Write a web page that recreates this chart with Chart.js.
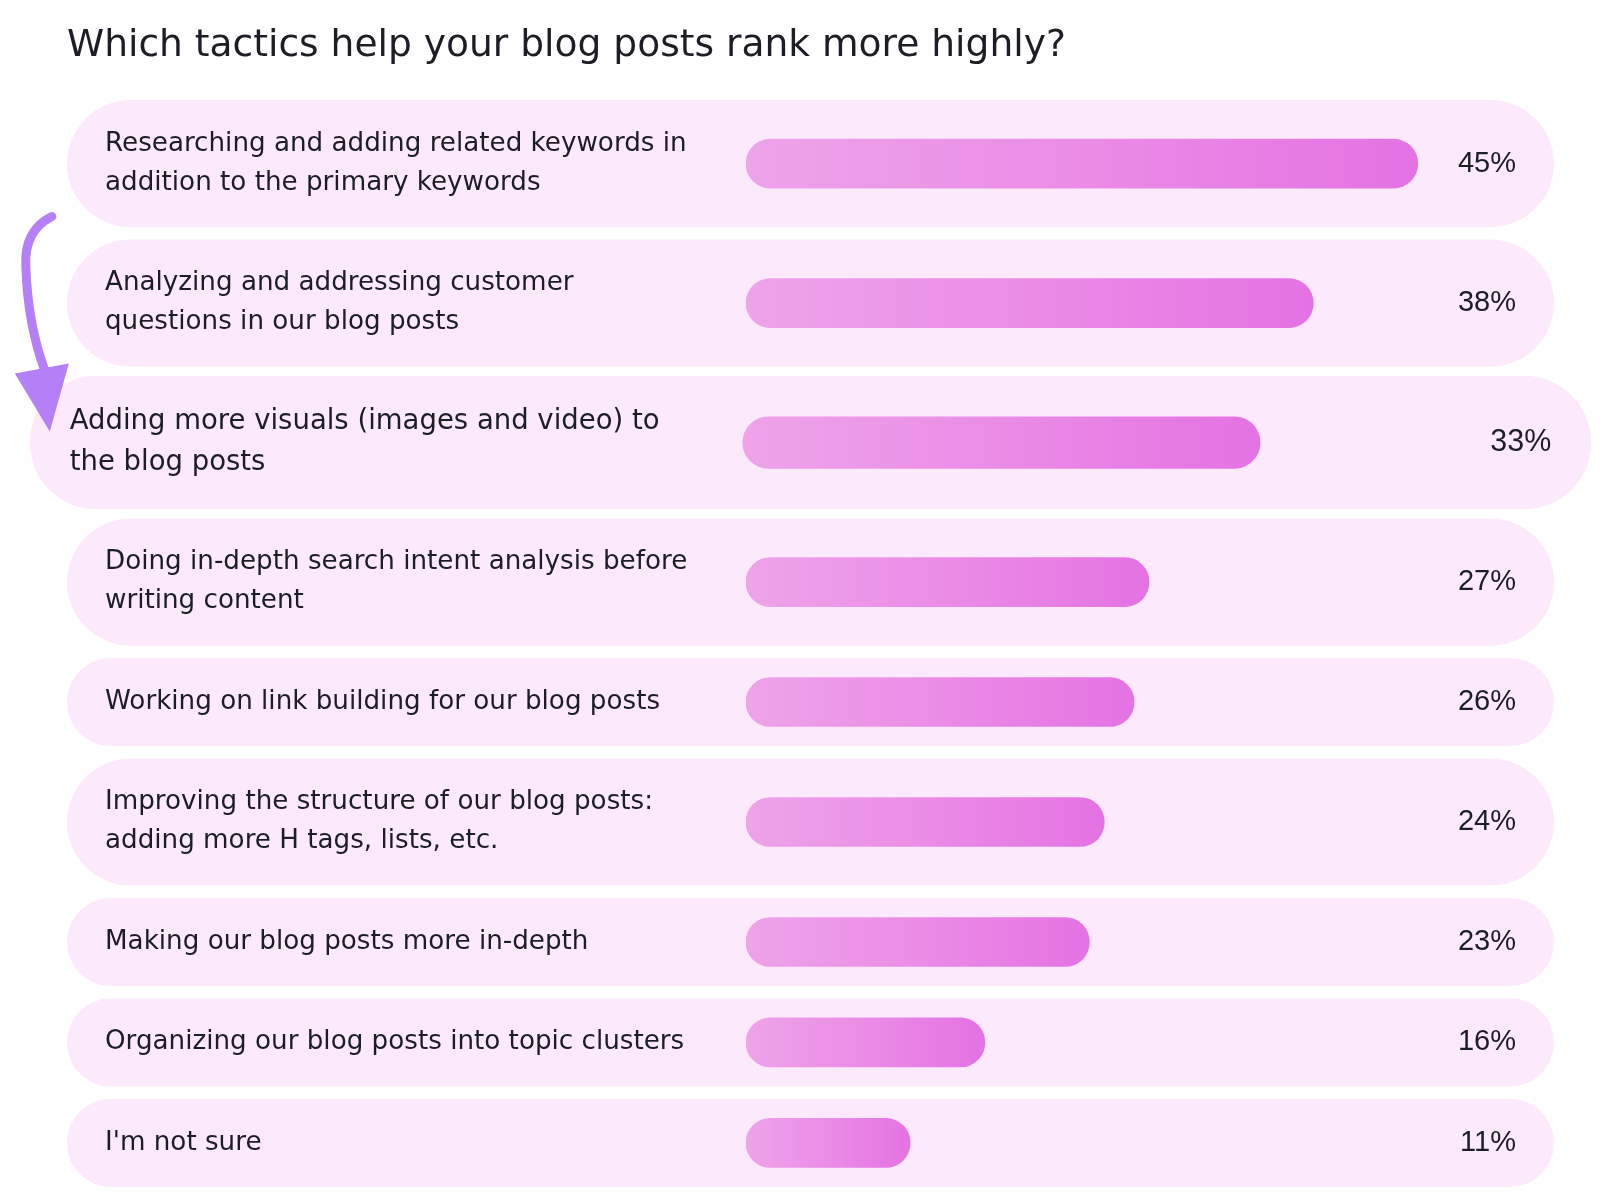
<!DOCTYPE html>
<html>
<head>
<meta charset="utf-8">
<script src="https://cdn.jsdelivr.net/npm/chart.js@4.4.1/dist/chart.umd.min.js"></script>
<style>
  html, body { margin: 0; padding: 0; background: #fff; }
  #wrap { position: relative; width: 1600px; height: 1197px; }
</style>
</head>
<body>
<div id="wrap"><canvas id="tacticsChart"></canvas></div>
<script>
// Survey data
const chartTitle = 'Which tactics help your blog posts rank more highly?';
const tactics = [
  ['Researching and adding related keywords in', 'addition to the primary keywords'],
  ['Analyzing and addressing customer', 'questions in our blog posts'],
  ['Adding more visuals (images and video) to', 'the blog posts'],
  ['Doing in-depth search intent analysis before', 'writing content'],
  ['Working on link building for our blog posts'],
  ['Improving the structure of our blog posts:', 'adding more H tags, lists, etc.'],
  ['Making our blog posts more in-depth'],
  ['Organizing our blog posts into topic clusters'],
  ["I'm not sure"]
];
const shares = [45, 38, 33, 27, 26, 24, 23, 16, 11];
const highlighted = 2;

// Layout (px)
const PAD_LEFT = 67;
const LABEL_COL = 679;
const PAD_RIGHT = 18;
const BG_RIGHT_INSET = 28;
const TEXT_INSET = 38;
const ZOOM = 1.05;
const X_MAX = 56;

const TEXT_COLOR = '#1d1d26';
const ROW_BG = '#fde9fc';
const LABEL_FONT = '"DejaVu Sans", "Noto Sans", sans-serif';
const PCT_FONT = '"Liberation Sans", Arial, sans-serif';

// row heights in "line" units: every row gets padding, two-line labels are taller
const ROW_PAD = 1.26;
const GAP = 0.315;
const rowTop = [];
const rowSize = [];
let acc = 0;
tactics.forEach(lines => {
  rowTop.push(acc);
  rowSize.push(lines.length + ROW_PAD);
  acc += lines.length + ROW_PAD + GAP;
});
const yMax = acc - GAP;
const rowMid = rowTop.map((t, i) => t + rowSize[i] / 2);

// the highlighted row is zoomed around the row centre, so its bar gets its own axis
const plotLeft = PAD_LEFT + LABEL_COL;
const plotW = 1600 - PAD_RIGHT - plotLeft;
const rowCenterX = (PAD_LEFT + (1600 - PAD_RIGHT - BG_RIGHT_INSET)) / 2;
const x2Min = (ZOOM - 1) * (rowCenterX - plotLeft) * X_MAX / (ZOOM * plotW);
const x2Max = x2Min + X_MAX / ZOOM;

const normalPoints = [];
const highlightPoints = [];
shares.forEach((v, i) => {
  const p = { x: v, y: rowMid[i] };
  if (i === highlighted) highlightPoints.push(p); else normalPoints.push(p);
});

function barFill(context) {
  const chart = context.chart;
  if (!chart.chartArea || context.type !== 'data') return '#e98ae6';
  const scale = chart.scales[context.dataset.xAxisID];
  const x0 = scale.getPixelForValue(0);
  const x1 = scale.getPixelForValue(context.raw.x);
  const g = chart.ctx.createLinearGradient(x0, 0, x1, 0);
  g.addColorStop(0, '#eea3ea');
  g.addColorStop(0.5, '#ea8ce6');
  g.addColorStop(1, '#e472e3');
  return g;
}

const rowsPlugin = {
  id: 'rows',
  beforeDatasetsDraw(chart) {
    const { ctx, scales: { y }, chartArea } = chart;
    const unit = Math.abs(y.getPixelForValue(1) - y.getPixelForValue(0));
    const bgLeft = PAD_LEFT;
    const bgRight = chartArea.right - BG_RIGHT_INSET;
    const cx = (bgLeft + bgRight) / 2;
    ctx.save();
    tactics.forEach((lines, i) => {
      const k = i === highlighted ? ZOOM : 1;
      const top = y.getPixelForValue(rowTop[i]);
      const bottom = y.getPixelForValue(rowTop[i] + rowSize[i]);
      const cy = (top + bottom) / 2;
      const h = (bottom - top) * k;
      const w = (bgRight - bgLeft) * k;
      ctx.fillStyle = ROW_BG;
      ctx.beginPath();
      ctx.roundRect(cx - w / 2, cy - h / 2, w, h, h / 2);
      ctx.fill();

      // label text
      ctx.fillStyle = TEXT_COLOR;
      ctx.textBaseline = 'middle';
      ctx.textAlign = 'left';
      ctx.font = (26.2 * k) + 'px ' + LABEL_FONT;
      const tx = cx + (bgLeft + TEXT_INSET - cx) * k;
      const lh = unit * k;
      lines.forEach((line, j) => {
        ctx.fillText(line, tx, cy + (j - (lines.length - 1) / 2) * lh);
      });

      // percentage
      ctx.textAlign = 'right';
      ctx.font = (29 * k) + 'px ' + PCT_FONT;
      const px = cx + (bgRight - TEXT_INSET - cx) * k;
      ctx.fillText(shares[i] + '%', px, cy);
    });
    ctx.restore();
  },
  afterDraw(chart) {
    // curved arrow pointing at the highlighted row
    const { ctx, scales: { y }, chartArea } = chart;
    const bgRight = chartArea.right - BG_RIGHT_INSET;
    const cx = (PAD_LEFT + bgRight) / 2;
    const ax = cx + (PAD_LEFT - cx) * ZOOM;
    const ay = y.getPixelForValue(rowMid[highlighted]);
    ctx.save();
    ctx.strokeStyle = '#b47ff7';
    ctx.fillStyle = '#b47ff7';
    ctx.lineWidth = 9;
    ctx.lineCap = 'round';
    ctx.beginPath();
    ctx.moveTo(ax + 22, ay - 226);
    ctx.quadraticCurveTo(ax - 6, ay - 212, ax - 4, ay - 176);
    ctx.quadraticCurveTo(ax - 2, ay - 118, ax + 15, ay - 72);
    ctx.stroke();
    ctx.beginPath();
    ctx.moveTo(ax - 15, ay - 69);
    ctx.lineTo(ax + 39, ay - 79);
    ctx.lineTo(ax + 20, ay - 11);
    ctx.closePath();
    ctx.fill();
    ctx.restore();
  }
};

new Chart(document.getElementById('tacticsChart'), {
  type: 'bar',
  data: {
    datasets: [
      {
        data: normalPoints,
        xAxisID: 'x',
        backgroundColor: barFill,
        barThickness: 49,
        borderRadius: 24.5,
        borderSkipped: false,
        grouped: false
      },
      {
        data: highlightPoints,
        xAxisID: 'x2',
        backgroundColor: barFill,
        barThickness: 51.5,
        borderRadius: 25.75,
        borderSkipped: false,
        grouped: false,
        clip: false
      }
    ]
  },
  options: {
    indexAxis: 'y',
    responsive: true,
    maintainAspectRatio: false,
    animation: false,
    layout: {
      padding: { left: PAD_LEFT, right: PAD_RIGHT, top: 0, bottom: 10 }
    },
    plugins: {
      legend: { display: false },
      tooltip: { enabled: false },
      title: {
        display: true,
        text: chartTitle,
        align: 'start',
        color: TEXT_COLOR,
        font: { family: LABEL_FONT, size: 37.6, weight: 'normal' },
        padding: { top: 23.4, bottom: 31.5 }
      }
    },
    scales: {
      x: { type: 'linear', min: 0, max: X_MAX, display: false },
      x2: { type: 'linear', min: x2Min, max: x2Max, display: false },
      y: {
        type: 'linear',
        reverse: true,
        offset: false,
        min: 0,
        max: yMax,
        grid: { display: false, offset: false },
        border: { display: false },
        ticks: { display: false },
        afterFit(scale) { scale.width = LABEL_COL; }
      }
    }
  },
  plugins: [rowsPlugin]
});
</script>
</body>
</html>
